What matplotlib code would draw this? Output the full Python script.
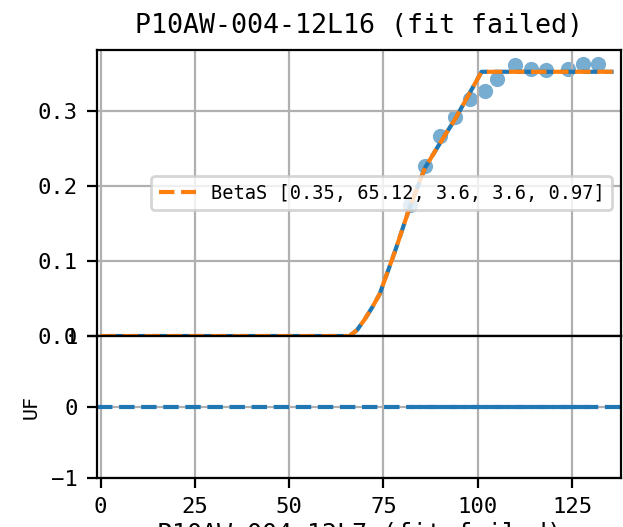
import matplotlib
matplotlib.use("Agg")
import matplotlib.pyplot as plt

# monospaced look of the original (half-width ascii)
plt.rcParams["font.family"] = ["DejaVu Sans Mono", "DejaVu Sans"]
plt.rcParams["axes.unicode_minus"] = True

title = "P10AW-004-12L16 (fit failed)"
xlabel = "P10AW-004-12L7 (fit failed)"
legend_label = "BetaS [0.35, 65.12, 3.6, 3.6, 0.97]"

# observed points
x_obs = [82, 86, 90, 94, 98, 102, 105, 110, 114, 118, 124, 128, 132]
y_obs = [0.175, 0.226, 0.266, 0.292, 0.316, 0.326, 0.343, 0.361, 0.356, 0.354, 0.356, 0.362, 0.362]

# model / fitted curve
x_fit = [0, 66, 68, 70, 72, 74, 78, 82, 86, 90, 94, 98, 101, 136]
y_model = [0, 0, 0.008, 0.022, 0.038, 0.056, 0.112, 0.172, 0.224, 0.257, 0.289, 0.325, 0.352, 0.352]
y_fit = [0, 0, 0.008, 0.022, 0.038, 0.056, 0.112, 0.172, 0.224, 0.257, 0.289, 0.325, 0.352, 0.352]

# residuals (UF) at observed x
uf = [0, 0, 0, 0, 0, 0, 0, 0, 0, 0, 0, 0, 0]

fig = plt.figure(figsize=(3.115, 2.635), dpi=200)
ax1 = fig.add_axes([0.1565, 0.3624, 0.8405, 0.5427])
ax2 = fig.add_axes([0.1565, 0.0930, 0.8405, 0.2694], sharex=ax1)

ax1.scatter(x_obs, y_obs, s=30, color="C0", alpha=0.6, linewidths=0)
ax1.plot(x_fit, y_model, color="C0", lw=1.5, linestyle=(3.5, (3.7, 1.6)))
ax1.plot(x_fit, y_fit, color="C1", lw=1.5, linestyle="--", label=legend_label)
ax1.set_ylim(0, 0.381)
ax1.set_yticks([0.0, 0.1, 0.2, 0.3])
ax1.set_title(title, fontsize=9.6)
ax1.grid(True)
ax1.legend(loc="center right", fontsize=6.7)
ax1.tick_params(labelbottom=False, labelsize=8.0)

ax2.axhline(0, color="C0", lw=1.5, linestyle="--")
ax2.plot(x_obs, uf, color="C0", lw=1.5, linestyle=(3.0, (3.7, 1.6)))
ax2.set_ylim(-1, 1)
ax2.set_yticks([-1, 0, 1])
ax2.set_xlim(-0.8, 138)
ax2.set_xticks([0, 25, 50, 75, 100, 125])
ax2.grid(True)
ax2.set_ylabel("UF", fontsize=7.2)
ax2.set_xlabel(xlabel, fontsize=9.0, labelpad=1.5)
ax2.tick_params(labelsize=8.0)

fig.savefig("out.png", dpi=200)
